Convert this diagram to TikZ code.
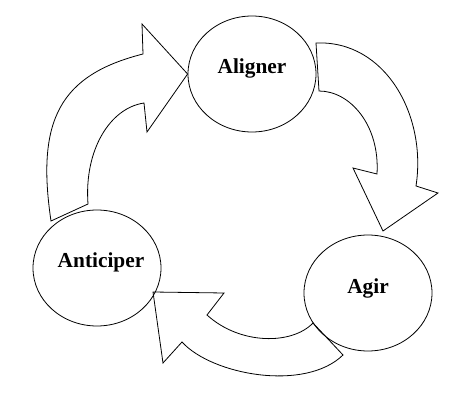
\documentclass[tikz,border=0pt]{standalone}
\usepackage{fontspec}
\setmainfont{Liberation Serif}
\usetikzlibrary{shapes.geometric}

\begin{document}
\begin{tikzpicture}[x=0.75pt, y=-0.75pt, line width=0.6pt,
    etape/.style={draw, ellipse, inner sep=0pt, minimum width=96pt, minimum height=87pt},
    etiquette/.style={font=\fontsize{16}{19}\selectfont\bfseries},
    fleche/.style={draw, line join=miter}]
    \useasboundingbox (0,0) rectangle (476,407);

    \node[etape] (aligner) at (252,74) {};
    \node[etape] (agir) at (368,293) {};
    \node[etape] (anticiper) at (97,268) {};

    \node[etiquette] (t-aligner) at (252,68) {Aligner};
    \node[etiquette] (t-agir) at (368,288) {Agir};
    \node[etiquette] (t-anticiper) at (101,262) {Anticiper};

    \draw[fleche] (51,221) .. controls (36,120) and (60,75) .. (143,54) -- (142,24)
        -- (aligner.west) -- (147,132) -- (144,103) .. controls (110,108) and (84,150) .. (88,204) -- cycle;
    \draw[fleche] (316,43) .. controls (385,40) and (427,115) .. (416,186) -- (438,193)
        -- (383,231) -- (353,168) -- (377,174) .. controls (380,125) and (350,91) .. (319,91) -- cycle;
    \draw[fleche] (343,355) .. controls (305,392) and (212,375) .. (182,342) -- (163,363)
        -- (153,292) -- (224,293) -- (207,315) .. controls (240,345) and (292,345) .. (313,323) -- cycle;
\end{tikzpicture}
\end{document}
